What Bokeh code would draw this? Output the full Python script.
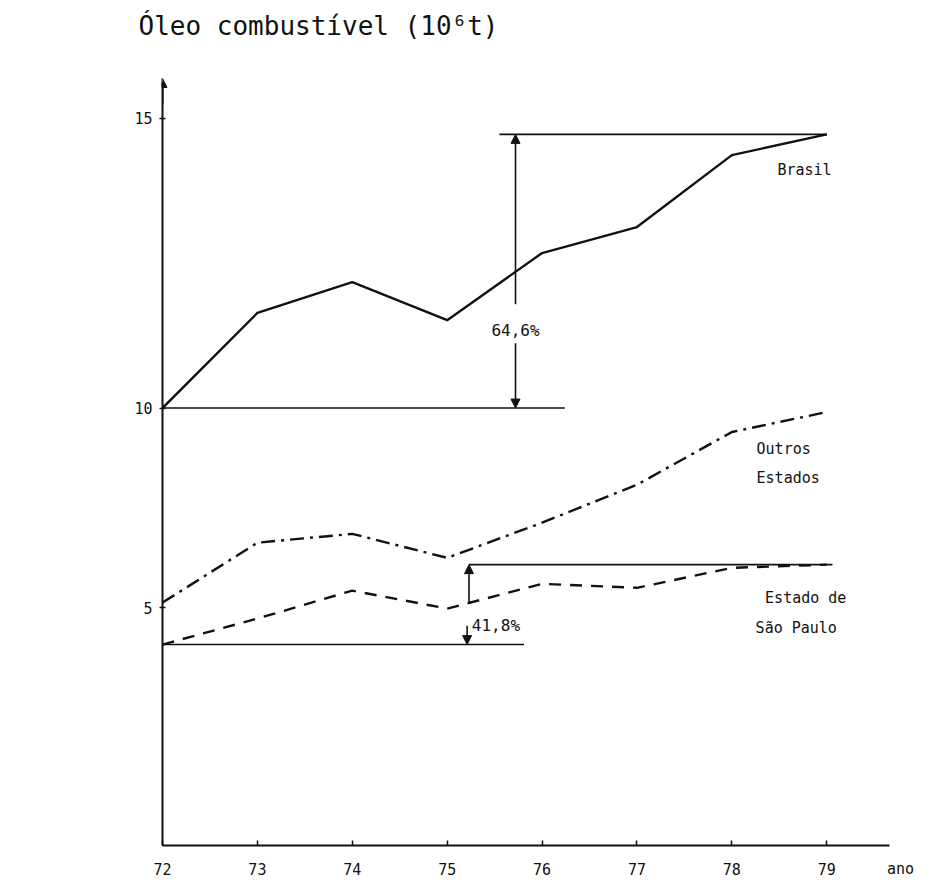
from bokeh.plotting import figure
from bokeh.models import Range1d, FixedTicker, Label, Arrow, NormalHead
from bokeh.embed import file_html
from bokeh.resources import INLINE

# ---- data (10^6 t) ----
anos = [72, 73, 74, 75, 76, 77, 78, 79]
brasil = [10.0, 12.38, 13.15, 12.2, 13.88, 14.53, 16.33, 16.85]
outros = [5.13, 6.63, 6.85, 6.25, 7.13, 8.08, 9.4, 9.9]
sao_paulo = [4.08, 4.73, 5.43, 4.98, 5.6, 5.5, 6.0, 6.08]
y_ticks = [5, 10, 17.25]
y_tick_labels = ["5", "10", "15"]
x_tick_labels = ["72", "73", "74", "75", "76", "77", "78", "79"]
titulo = "Óleo combustível (10⁶t)"
pct_brasil = "64,6%"
pct_sp = "41,8%"

FONT = "DejaVu Sans Mono"
INK = "#111111"

p = figure(width=923, height=880, x_range=Range1d(72, 79.777), y_range=Range1d(-0.95, 19.0),
           output_backend="svg", toolbar_location=None, title=titulo,
           min_border_left=162, min_border_right=23, min_border_top=48, min_border_bottom=34)
p.outline_line_color = None
p.grid.visible = False
p.background_fill_color = "white"

p.title.align = "left"
p.title.offset = -24
p.title.text_font = FONT
p.title.text_font_size = "26px"
p.title.text_font_style = "normal"
p.title.text_color = INK
p.title.standoff = 15

# axes
xa = p.xaxis[0]
xa.ticker = FixedTicker(ticks=anos)
xa.major_label_overrides = {a: t for a, t in zip(anos, x_tick_labels)}
xa.bounds = (72, 79.66)
xa.axis_line_width = 2
xa.axis_line_color = INK
xa.major_tick_in = 5
xa.major_tick_out = 0
xa.major_tick_line_width = 1.5
xa.major_tick_line_color = INK
xa.minor_tick_line_color = None
xa.major_label_standoff = 17
xa.major_label_text_font = FONT
xa.major_label_text_font_size = "15px"
xa.major_label_text_color = INK
xa.axis_label = "ano"
xa.axis_label_text_font = FONT
xa.axis_label_text_font_size = "15px"
xa.axis_label_text_font_style = "normal"
xa.axis_label_text_color = INK
xa.axis_label_standoff = -18
xa.axis_label_align = "end"

ya = p.yaxis[0]
ya.ticker = FixedTicker(ticks=y_ticks)
ya.major_label_overrides = {t: l for t, l in zip(y_ticks, y_tick_labels)}
ya.bounds = (-0.95, 18.15)
ya.axis_line_width = 2
ya.axis_line_color = INK
ya.major_tick_in = 3
ya.major_tick_out = 3
ya.major_tick_line_width = 1.5
ya.major_tick_line_color = INK
ya.minor_tick_line_color = None
ya.major_label_standoff = 7
ya.major_label_text_font = FONT
ya.major_label_text_font_size = "15px"
ya.major_label_text_color = INK
ya.major_label_text_baseline = "middle"

# top arrow of y axis
p.add_layout(Arrow(end=NormalHead(size=9, fill_color=INK, line_color=INK),
                   x_start=72, y_start=17.6, x_end=72, y_end=18.25,
                   line_color=INK, line_width=2))

# series
p.line(anos, brasil, line_color=INK, line_width=2.4)
p.line(anos, outros, line_color=INK, line_width=2.4, line_dash="14 6 3 6")
p.line(anos, sao_paulo, line_color=INK, line_width=2.4, line_dash="12 9")

# reference lines for growth
p.segment(x0=[72, 75.55, 72, 75.23], y0=[brasil[0], brasil[-1], sao_paulo[0], sao_paulo[-1]],
          x1=[76.24, 79.0, 75.81, 79.06], y1=[brasil[0], brasil[-1], sao_paulo[0], sao_paulo[-1]],
          line_color=INK, line_width=1.6)

# growth arrows
xb = 75.72
p.add_layout(Arrow(end=NormalHead(size=9, fill_color=INK, line_color=INK),
                   x_start=xb, y_start=12.6, x_end=xb, y_end=brasil[-1],
                   line_color=INK, line_width=1.6))
p.add_layout(Arrow(end=NormalHead(size=9, fill_color=INK, line_color=INK),
                   x_start=xb, y_start=11.62, x_end=xb, y_end=brasil[0],
                   line_color=INK, line_width=1.6))
p.add_layout(Arrow(end=NormalHead(size=9, fill_color=INK, line_color=INK),
                   x_start=75.23, y_start=5.12, x_end=75.23, y_end=sao_paulo[-1],
                   line_color=INK, line_width=1.6))
p.add_layout(Arrow(end=NormalHead(size=9, fill_color=INK, line_color=INK),
                   x_start=75.21, y_start=4.55, x_end=75.21, y_end=sao_paulo[0],
                   line_color=INK, line_width=1.6))

def lab(x, y, t, size="15px", align="left"):
    p.add_layout(Label(x=x, y=y, text=t, text_font=FONT, text_font_size=size,
                       text_color=INK, text_baseline="middle", text_align=align))

lab(xb, 11.95, pct_brasil, "16px", "center")
lab(75.26, 4.55, pct_sp, "16px")
lab(78.48, 15.95, "Brasil")
lab(78.26, 8.98, "Outros")
lab(78.26, 8.25, "Estados")
lab(78.35, 5.25, "Estado de")
lab(78.25, 4.5, "São Paulo")

open("out.html", "w").write(file_html(p, INLINE))
